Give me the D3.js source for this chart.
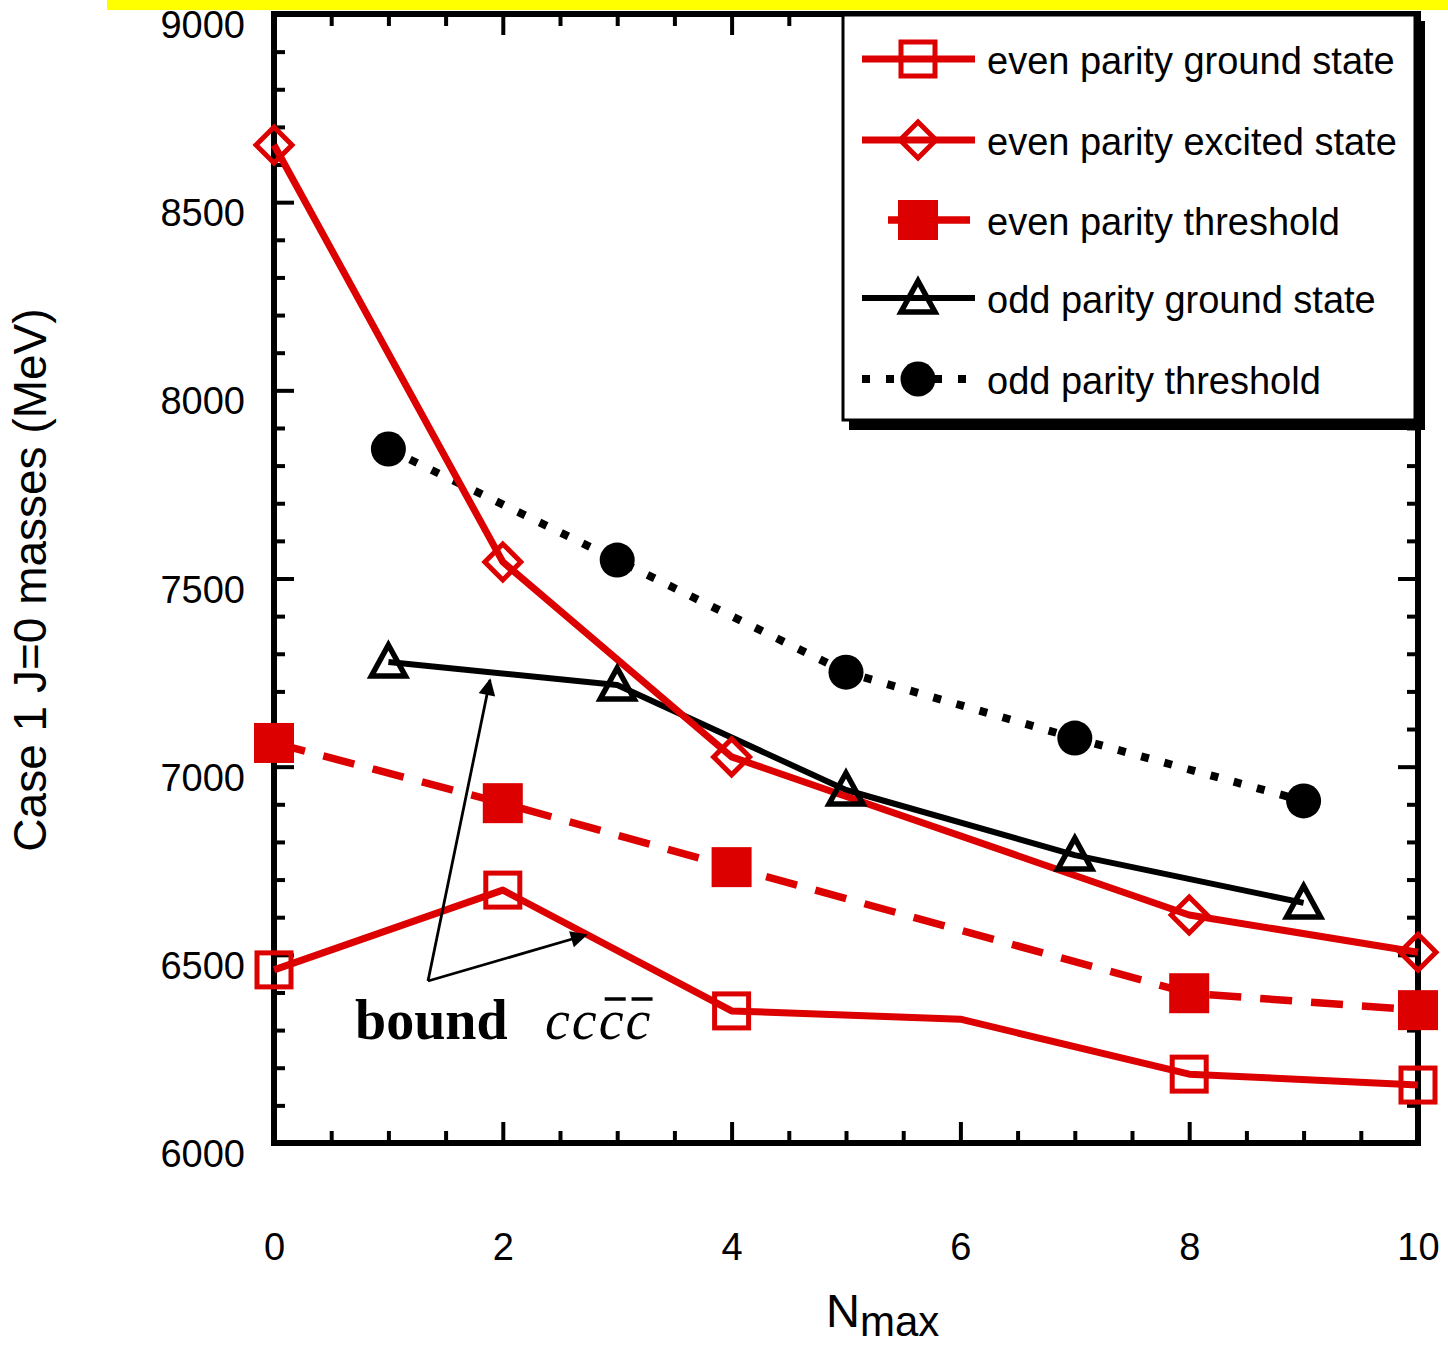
<!DOCTYPE html>
<html>
<head>
<meta charset="utf-8">
<script src="https://cdn.jsdelivr.net/npm/d3@7"></script>
<style>
  html, body { margin: 0; padding: 0; background: #fff; }
  svg { display: block; }
  text { font-family: "Liberation Sans", Arial, Helvetica, sans-serif; }
</style>
</head>
<body>
<svg id="chart" width="1448" height="1346"></svg>
<script>
// ---------------- data ----------------
const seriesNames = [
  "even parity ground state",
  "even parity excited state",
  "even parity threshold",
  "odd parity ground state",
  "odd parity threshold"
];
const nmaxEvenGround = [0, 2, 4, 6, 8, 10];
const evenGround     = [6460, 6672, 6351, 6329, 6183, 6154];
const evenGroundMarked = [true, true, true, false, true, true];
const nmaxEvenExcited = [0, 2, 4, 8, 10];
const evenExcited     = [8652, 7544, 7026, 6606, 6507];
const nmaxEvenThreshold = [0, 2, 4, 8, 10];
const evenThreshold     = [7063, 6903, 6733, 6398, 6353];
const nmaxOdd   = [1, 3, 5, 7, 9];
const oddGround = [7278, 7217, 6938, 6765, 6638];
const oddThreshold = [7844, 7549, 7251, 7076, 6909];

const xTicks = [0, 2, 4, 6, 8, 10];
const yTicks = [6000, 6500, 7000, 7500, 8000, 8500, 9000];
const xTitle = "N";
const xTitleSub = "max";
const yTitle = "Case 1 J=0 masses (MeV)";
const annoBold = "bound";
const annoItalic = "cccc";

// ---------------- layout ----------------
const RED = "#dc0000";
const svg = d3.select("#chart");
const L = 274, R = 1418, T = 14, B = 1143;
const x = d3.scaleLinear().domain([0, 10]).range([L, R]);
const y = d3.scaleLinear().domain([6000, 9000]).range([B, T]);

// yellow bar at top
svg.append("rect").attr("x", 107).attr("y", 0).attr("width", 1341).attr("height", 10).attr("fill", "#ffff00");

// ---------------- axes ----------------
const minorX = d3.range(0, 10.01, 0.5).filter(v => v % 2 !== 0);
const minorY = d3.range(6000, 9001, 100).filter(v => v % 500 !== 0);

function styleAxis(g) {
  g.select(".domain").remove();
  g.selectAll(".tick line").attr("stroke", "#000").attr("stroke-width", 4);
  g.selectAll(".tick text").attr("fill", "#000").style("font-size", "38px")
    .style("font-family", "'Liberation Sans', Arial, sans-serif");
}
// bottom
svg.append("g").attr("transform", `translate(0,${B})`)
  .call(d3.axisBottom(x).tickValues(xTicks).tickSize(-21).tickPadding(90).tickFormat(d3.format("d")))
  .call(styleAxis);
svg.append("g").attr("transform", `translate(0,${B})`)
  .call(d3.axisBottom(x).tickValues(minorX).tickSize(-12).tickFormat(""))
  .call(styleAxis);
// top
svg.append("g").attr("transform", `translate(0,${T})`)
  .call(d3.axisTop(x).tickValues(xTicks).tickSize(-21).tickFormat(""))
  .call(styleAxis);
svg.append("g").attr("transform", `translate(0,${T})`)
  .call(d3.axisTop(x).tickValues(minorX).tickSize(-12).tickFormat(""))
  .call(styleAxis);
// left
const yAx = svg.append("g").attr("transform", `translate(${L},0)`)
  .call(d3.axisLeft(y).tickValues(yTicks).tickSize(-20).tickPadding(29).tickFormat(d3.format("d")))
  .call(styleAxis);
yAx.selectAll(".tick text").attr("dy", "0.62em");
svg.append("g").attr("transform", `translate(${L},0)`)
  .call(d3.axisLeft(y).tickValues(minorY).tickSize(-11).tickFormat(""))
  .call(styleAxis);
// right
svg.append("g").attr("transform", `translate(${R},0)`)
  .call(d3.axisRight(y).tickValues(yTicks).tickSize(-20).tickFormat(""))
  .call(styleAxis);
svg.append("g").attr("transform", `translate(${R},0)`)
  .call(d3.axisRight(y).tickValues(minorY).tickSize(-11).tickFormat(""))
  .call(styleAxis);

// frame
svg.append("rect").attr("x", L).attr("y", T).attr("width", R - L).attr("height", B - T)
  .attr("fill", "none").attr("stroke", "#000").attr("stroke-width", 6);

// axis titles
const xt = svg.append("text").attr("x", 826).attr("y", 1327).attr("fill", "#000")
  .style("font-size", "47px");
xt.append("tspan").text(xTitle);
xt.append("tspan").attr("dy", 9).style("font-size", "42px").text(xTitleSub);

svg.append("text").attr("transform", "translate(46,580) rotate(-90)")
  .attr("text-anchor", "middle").attr("fill", "#000").style("font-size", "46px").text(yTitle);

// ---------------- series ----------------
const series = [
  { name: seriesNames[3], xs: nmaxOdd, ys: oddGround, color: "#000", width: 6, dash: null, marker: "triangle", filled: false },
  { name: seriesNames[4], xs: nmaxOdd, ys: oddThreshold, color: "#000", width: 8, dash: "8,16", marker: "circle", filled: true },
  { name: seriesNames[2], xs: nmaxEvenThreshold, ys: evenThreshold, color: RED, width: 7.5, dash: "32,19", marker: "square", filled: true },
  { name: seriesNames[1], xs: nmaxEvenExcited, ys: evenExcited, color: RED, width: 7, dash: null, marker: "diamond", filled: false },
  { name: seriesNames[0], xs: nmaxEvenGround, ys: evenGround, color: RED, width: 7, dash: null, marker: "square", filled: false, marked: evenGroundMarked }
];

const line = d3.line().x(d => x(d[0])).y(d => y(d[1]));
series.forEach(s => {
  s.pts = s.xs.map((v, i) => [v, s.ys[i]]);
  svg.append("path").datum(s.pts).attr("d", line).attr("fill", "none")
    .attr("stroke", s.color).attr("stroke-width", s.width)
    .attr("stroke-dasharray", s.dash).attr("stroke-linejoin", "round");
});

function drawMarker(g, type, cx, cy, color, filled) {
  if (type === "square") {
    const h = filled ? 19 : 17;
    g.append("rect").attr("x", cx - h).attr("y", cy - h).attr("width", 2 * h).attr("height", 2 * h)
      .attr("fill", filled ? color : "none").attr("stroke", color).attr("stroke-width", filled ? 2 : 5);
  } else if (type === "diamond") {
    const h = 18;
    g.append("path").attr("d", `M${cx},${cy - h}L${cx + h},${cy}L${cx},${cy + h}L${cx - h},${cy}Z`)
      .attr("fill", "none").attr("stroke", color).attr("stroke-width", 5);
  } else if (type === "triangle") {
    g.append("path").attr("d", `M${cx},${cy - 17}L${cx + 17},${cy + 14}L${cx - 17},${cy + 14}Z`)
      .attr("fill", "none").attr("stroke", color).attr("stroke-width", 5.5).attr("stroke-linejoin", "miter");
  } else if (type === "circle") {
    g.append("circle").attr("cx", cx).attr("cy", cy).attr("r", 17.5).attr("fill", color);
  }
}
const mg = svg.append("g");
series.forEach(s => {
  s.pts.forEach((p, i) => {
    if (s.marked && !s.marked[i]) return;
    drawMarker(mg, s.marker, x(p[0]), y(p[1]), s.color, s.filled);
  });
});

// ---------------- annotation ----------------
const defs = svg.append("defs");
defs.append("marker").attr("id", "arrow").attr("viewBox", "0 0 10 10").attr("refX", 9).attr("refY", 5)
  .attr("markerWidth", 7).attr("markerHeight", 6).attr("markerUnits", "strokeWidth").attr("orient", "auto")
  .append("path").attr("d", "M0,0L10,5L0,10Z").attr("fill", "#000");
const vx = 428, vy = 981;
svg.append("line").attr("x1", vx).attr("y1", vy).attr("x2", 490).attr("y2", 680)
  .attr("stroke", "#000").attr("stroke-width", 2.8).attr("marker-end", "url(#arrow)");
svg.append("line").attr("x1", vx).attr("y1", vy).attr("x2", 586).attr("y2", 935)
  .attr("stroke", "#000").attr("stroke-width", 2.8).attr("marker-end", "url(#arrow)");

svg.append("text").attr("x", 355).attr("y", 1039).attr("fill", "#000")
  .style("font-family", "'Liberation Serif', 'Times New Roman', serif").style("font-weight", "bold")
  .style("font-size", "56px").text(annoBold);
const it = svg.append("text").attr("x", 545).attr("y", 1039).attr("fill", "#000")
  .style("font-family", "'Liberation Serif', 'Times New Roman', serif").style("font-style", "italic")
  .style("font-size", "56px").style("letter-spacing", "2px").text(annoItalic);
[2, 3].forEach(i => {
  const sp = it.node().getStartPositionOfChar(i);
  svg.append("line").attr("x1", sp.x + 6).attr("x2", sp.x + 27)
    .attr("y1", 999).attr("y2", 999).attr("stroke", "#000").attr("stroke-width", 3.5);
});

// ---------------- legend ----------------
const lg = svg.append("g");
lg.append("rect").attr("x", 849).attr("y", 21).attr("width", 576).attr("height", 409).attr("fill", "#000");
lg.append("rect").attr("x", 843).attr("y", 15).attr("width", 572).attr("height", 405)
  .attr("fill", "#fff").attr("stroke", "#000").attr("stroke-width", 3);
const legendOrder = [4, 3, 2, 0, 1];
const rowY = [59, 140, 220, 298, 379];
legendOrder.forEach((si, r) => {
  const s = series[si];
  const ly = rowY[r];
  let x1 = 862, x2 = 975, dash = s.dash;
  if (s.marker === "square" && s.filled) { x1 = 888; x2 = 970; dash = null; }
  lg.append("line").attr("x1", x1).attr("x2", x2).attr("y1", ly).attr("y2", ly)
    .attr("stroke", s.color).attr("stroke-width", s.width).attr("stroke-dasharray", dash);
  drawMarker(lg, s.marker, 918, ly, s.color, s.filled);
  lg.append("text").attr("x", 987).attr("y", ly + 15).attr("fill", "#000")
    .style("font-size", "38px").text(s.name);
});
</script>
</body>
</html>
